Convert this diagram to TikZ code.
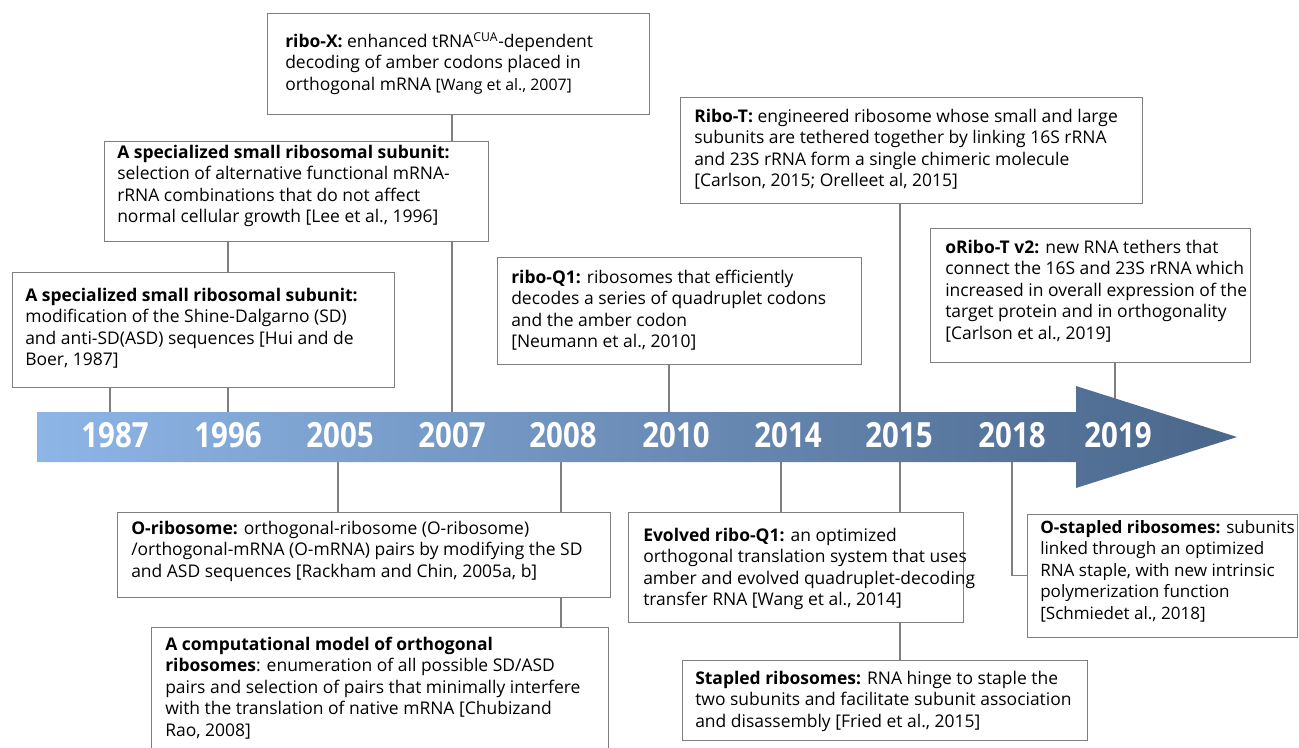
\documentclass[tikz,border=0pt]{standalone}
\usepackage{fontspec}
\setmainfont{Open Sans}
\newfontfamily\yearfont[FakeStretch=0.85]{Open Sans}
\usetikzlibrary{calc,backgrounds}
\definecolor{boxgray}{RGB}{127,127,127}
\definecolor{arrowL}{RGB}{141,181,230}
\definecolor{arrowR}{RGB}{74,102,138}
\tikzset{
  evbox/.style 2 args={draw=boxgray, line width=1pt, fill=white, inner sep=0pt, anchor=north west,
    minimum width=#1*0.75pt, minimum height=#2*0.75pt},
  txt/.style={anchor=base west, align=left, inner sep=0pt, font=\fontsize{13.1}{16.2}\selectfont},
  conn/.style={draw=boxgray, line width=1pt},
  year/.style={anchor=base, text=white, inner sep=0pt, font=\yearfont\bfseries\fontsize{26}{26}\selectfont}
}
\begin{document}
\begin{tikzpicture}[x=0.75pt,y=-0.75pt]
\useasboundingbox (0,0) rectangle (1299,747);
% timeline anchor coordinates
\coordinate (bartop) at (0,412);
\coordinate (barbot) at (0,462);
\coordinate (t1987) at (110,437);
\coordinate (t1996) at (228,437);
\coordinate (t2005) at (338,437);
\coordinate (t2007) at (452,437);
\coordinate (t2008) at (561,437);
\coordinate (t2010) at (669,437);
\coordinate (t2014) at (781,437);
\coordinate (t2015) at (900,437);
\coordinate (t2018) at (1012,437);
\coordinate (t2019) at (1115,437);

% boxes
\path
  (267,13)   node[evbox={382}{101}] (b1) {}
  (104,141)  node[evbox={384}{100}] (b2) {}
  (12,272)   node[evbox={382}{115}] (b3) {}
  (497,257)  node[evbox={364}{107}] (b4) {}
  (680,97)   node[evbox={462}{106}] (b5) {}
  (930,228)  node[evbox={320}{134}] (b6) {}
  (117,512)  node[evbox={493}{85}]  (b7) {}
  (151,627)  node[evbox={457}{140}] (b8) {}
  (628,512)  node[evbox={335}{110}] (b9) {}
  (682,660)  node[evbox={405}{80}]  (b10) {}
  (1027,514) node[evbox={270}{123}] (b11) {};

\begin{scope}[on background layer]
% connectors
\draw[conn] (b1.south -| t2007) -- (t2007 |- bartop);
\draw[conn] (b2.south -| t1996) -- (t1996 |- bartop);
\draw[conn] (b3.south -| t1987) -- (t1987 |- bartop);
\draw[conn] (b4.south -| t2010) -- (t2010 |- bartop);
\draw[conn] (b5.south -| t2015) -- (t2015 |- bartop);
\draw[conn] (b6.south -| t2019) -- (t2019);
\draw[conn] (t2005 |- barbot) -- (b7.north -| t2005);
\draw[conn] (t2008 |- barbot) -- (b8.north -| t2008);
\draw[conn] (t2014 |- barbot) -- (b9.north -| t2014);
\draw[conn] (t2015 |- barbot) -- (b10.north -| t2015);
\draw[conn] (t2018 |- barbot) |- ([yshift=0.75pt]b11.west);
% timeline arrow
\shade[left color=arrowL, right color=arrowR]
  (37,412) -- (1076,412) -- (1076,386) -- (1237,437) -- (1076,488) -- (1076,462) -- (37,462) -- cycle;
\end{scope}

% years
\node[year] (y1987) at (115,447) {1987};
\node[year] (y1996) at (228,447) {1996};
\node[year] (y2005) at (340,447) {2005};
\node[year] (y2007) at (452,447) {2007};
\node[year] (y2008) at (563,447) {2008};
\node[year] (y2010) at (676,447) {2010};
\node[year] (y2014) at (788,447) {2014};
\node[year] (y2015) at (899,447) {2015};
\node[year] (y2018) at (1012,447) {2018};
\node[year] (y2019) at (1118,447) {2019};

% texts (anchor = baseline of last line)
\node[txt] (x1) at ($(b1.north west)+(18,77.2)$)
  {\textbf{ribo-X:} enhanced tRNA\textsuperscript{CUA}-dependent\\decoding of amber codons placed in\\orthogonal mRNA {\fontsize{11.9}{14}\selectfont [Wang et al., 2007]}};
\node[txt] (x2) at ($(b2.north west)+(13,81.8)$)
  {\textbf{A specialized small ribosomal subunit:}\\selection of alternative functional mRNA-\\rRNA combinations that do not affect\\normal cellular growth [Lee et al., 1996]};
\node[txt] (x3) at ($(b3.north west)+(13,93.8)$)
  {\textbf{A specialized small ribosomal subunit:}\\modification of the Shine-Dalgarno (SD)\\and anti-SD(ASD) sequences [Hui and de\\Boer, 1987]};
\node[txt] (x4) at ($(b4.north west)+(14,90.8)$)
  {\textbf{ribo-Q1:} ribosomes that efficiently\\decodes a series of quadruplet codons\\and the amber codon\\{[}Neumann et al., 2010]};
\node[txt] (x5) at ($(b5.north west)+(14,89.8)$)
  {\textbf{Ribo-T:} engineered ribosome whose small and large\\subunits are tethered together by linking 16S rRNA\\and 23S rRNA form a single chimeric molecule\\{[}Carlson, 2015; Orelleet al, 2015]};
\node[txt] (x6) at ($(b6.north west)+(15,111.4)$)
  {\textbf{oRibo-T v2:} new RNA tethers that\\connect the 16S and 23S rRNA which\\increased in overall expression of the\\target protein and in orthogonality\\{[}Carlson et al., 2019]};
\node[txt] (x7) at ($(b7.north west)+(14,65.2)$)
  {\textbf{O-ribosome:} orthogonal-ribosome (O-ribosome)\\/orthogonal-mRNA (O-mRNA) pairs by modifying the SD\\and ASD sequences [Rackham and Chin, 2005a, b]};
\node[txt] (x8) at ($(b8.north west)+(14,109.4)$)
  {\textbf{A computational model of orthogonal}\\\textbf{ribosomes}: enumeration of all possible SD/ASD\\pairs and selection of pairs that minimally interfere\\with the translation of native mRNA [Chubizand\\Rao, 2008]};
\node[txt] (x9) at ($(b9.north west)+(15,93.8)$)
  {\textbf{Evolved ribo-Q1:} an optimized\\orthogonal translation system that uses\\amber and evolved quadruplet-decoding\\transfer RNA [Wang et al., 2014]};
\node[txt] (x10) at ($(b10.north west)+(13,67.2)$)
  {\textbf{Stapled ribosomes:} RNA hinge to staple the\\two subunits and facilitate subunit association\\and disassembly [Fried et al., 2015]};
\node[txt, font=\fontsize{12.8}{16.2}\selectfont] (x11) at ($(b11.north west)+(13,105.5)$)
  {\textbf{O-stapled ribosomes:} subunits\\linked through an optimized\\RNA staple, with new intrinsic\\polymerization function\\{[}Schmiedet al., 2018]};
\end{tikzpicture}
\end{document}
